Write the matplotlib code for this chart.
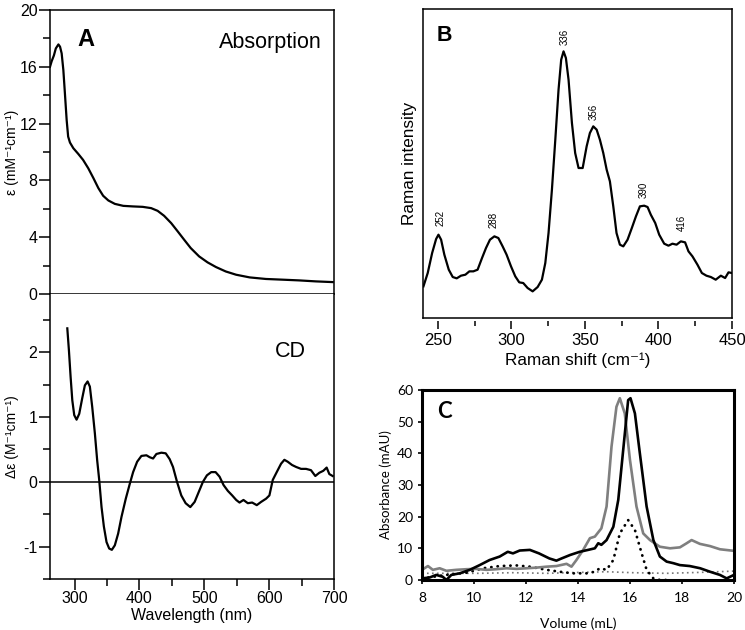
import numpy as np
import matplotlib
matplotlib.use('Agg')
import matplotlib.pyplot as plt
from matplotlib.ticker import MultipleLocator

plt.rcParams['font.family'] = ['Liberation Sans', 'DejaVu Sans']
plt.rcParams['mathtext.fontset'] = 'custom'
plt.rcParams['mathtext.rm'] = 'Liberation Sans'
plt.rcParams['axes.unicode_minus'] = False

# Painel A - absorcao (nm, mM-1 cm-1)
abs_wl = [262, 264.6, 268, 271, 275, 277.5, 280, 282.6, 285, 287.7, 290, 292.8, 298,
          305.6, 313, 321, 329, 336.6, 344, 352, 362, 375, 390, 405, 418, 428, 438, 449,
          459, 469, 479, 492, 505, 518, 533, 549, 570, 595, 621, 646, 672, 698]
abs_eps = [16.0, 16.4, 16.8, 17.3, 17.58, 17.42, 16.95, 15.78, 14.14, 12.26, 11.09, 10.67,
           10.27, 9.87, 9.45, 8.86, 8.16, 7.46, 6.92, 6.59, 6.35, 6.21, 6.17, 6.14, 6.05,
           5.86, 5.51, 4.99, 4.41, 3.82, 3.24, 2.65, 2.23, 1.90, 1.59, 1.36, 1.17, 1.06,
           1.01, 0.96, 0.89, 0.84]

# Painel A - CD (nm, M-1 cm-1)
cd_wl = [288.7, 291.2, 293.8, 296.4, 299.4, 303, 307.1, 311.7, 315.8, 320, 323.5, 327.1,
         331.2, 334.8, 337.9, 341.5, 345.1, 349.2, 353.3, 357.4, 362, 367.1, 372.3, 378.9,
         385.1, 390.2, 396.4, 403, 410.7, 415.8, 421, 426.1, 433.8, 440.5, 446.6,
         451.7, 457.9, 464.5, 471.2, 478.4, 485.1, 491.7, 497.9, 504, 510.7, 517.4, 523.5,
         529.7, 536.3, 543, 549.2, 554.3, 560.4, 567.1, 573.8, 580.9, 587.6, 595.3, 600.4,
         605.6, 611.7, 618.4, 623.5, 628.7, 635.3, 641.5, 649.2, 656.9, 664.5, 671.2,
         677.4, 683.5, 688.7, 692.8, 697.9]
cd_de = [2.37, 2.03, 1.62, 1.26, 1.03, 0.96, 1.05, 1.29, 1.49, 1.55, 1.47, 1.16, 0.75,
         0.33, 0.03, -0.39, -0.69, -0.93, -1.03, -1.05, -0.98, -0.80, -0.54, -0.26, -0.03,
         0.15, 0.31, 0.40, 0.41, 0.38, 0.36, 0.43, 0.45, 0.44, 0.35,
         0.23, 0.0, -0.21, -0.33, -0.39, -0.31, -0.15, 0.0, 0.10, 0.15, 0.15, 0.08, -0.05,
         -0.14, -0.21, -0.28, -0.32, -0.28, -0.33, -0.32, -0.36, -0.31, -0.26, -0.21, 0.03,
         0.15, 0.28, 0.34, 0.31, 0.26, 0.23, 0.20, 0.20, 0.18, 0.09, 0.14, 0.17, 0.22,
         0.12, 0.09]

# Painel B - Raman
ram_x = [240.3, 243.2, 246.2, 248.9, 250.5, 252.3, 254.5, 257.5, 260.2, 262.9, 265.8,
         268.8, 271.5, 274.2, 277.1, 280.1, 282.8, 285.5, 288.5, 291.2, 294.1, 296.8,
         299.8, 302.7, 305.4, 308.1, 311.1, 314.5, 317.9, 320.8, 323.1, 325.3, 327.6,
         329.9, 332.1, 333.9, 335.5, 337.1, 338.9, 341.2, 343.4, 345.7,
         348.5, 351.2, 353.4, 355.7, 358.0, 360.2, 362.5, 364.8, 367.0, 369.3, 371.5,
         373.8, 376.1, 379.0, 381.9, 384.7, 387.4, 390.3, 392.6, 394.8, 397.8, 400.5,
         403.9, 406.8, 409.5, 412.3, 415.2, 418.1, 420.4, 423.1, 426.5, 429.5, 432.6,
         435.6, 438.9, 442.4, 445.3, 447.6, 450.0]
ram_y = [9.5, 13.5, 19.5, 23.7, 25.0, 23.5, 19.0, 14.5, 12.3, 11.9, 12.7, 13.0, 14.0,
         14.0, 14.5, 18.0, 21.0, 23.5, 24.5, 24.0, 21.5, 19.0, 15.5, 12.5, 10.7, 10.5, 9.0,
         8.0, 9.3, 11.5, 16.5, 25.5, 38.5, 53.5, 68.5, 77.5, 80.0, 78.0, 71.5, 58.5, 49.5,
         45.0,
         45.0, 51.5, 55.5, 57.5, 56.5, 53.5, 49.5, 44.5, 41.0, 33.5, 25.5, 22.0, 21.5,
         23.5, 27.0, 30.5, 33.5, 33.7, 33.3, 31.0, 28.5, 25.0, 22.3, 21.7, 22.3, 22.0,
         23.0, 22.7, 20.0, 18.5, 16.0, 13.5, 12.7, 12.3, 11.5, 12.7, 12.0, 13.7, 13.5]
peak_pos = [252, 288, 336, 356, 390, 416]
peak_lab_y = [27.5, 27.0, 82.0, 59.5, 36.0, 26.0]

# Painel C - cromatografia (mL, mAU)
vol_k = [8.0, 8.3, 8.55, 8.8, 8.94, 9.13, 9.45, 9.84, 10.22, 10.6, 10.99, 11.3, 11.5,
         11.76, 12.15, 12.5, 12.9, 13.17, 13.37, 13.7, 14.07, 14.39, 14.65, 14.78, 14.9,
         15.1, 15.36, 15.55, 15.74, 15.93, 16.02, 16.19, 16.38, 16.64, 16.9, 17.15, 17.41,
         17.67, 17.92, 18.3, 18.7, 19.08, 19.46, 19.72, 20.0]
abs_k = [0.5, 0.8, 1.6, 1.0, 0.0, 1.6, 2.1, 3.2, 4.7, 6.3, 7.4, 8.9, 8.4, 9.3, 9.5, 8.4,
         6.8, 6.1, 6.8, 7.9, 8.9, 9.5, 10.0, 11.6, 11.1, 12.6, 16.8, 25.3, 41.1, 56.8, 57.4,
         52.6, 40.0, 23.2, 12.6, 7.4, 5.8, 5.3, 4.7, 4.4, 3.7, 2.6, 1.6, 0.5, 1.6]

vol_g = [8.0, 8.23, 8.42, 8.68, 8.94, 9.32, 9.71, 10.09, 10.48, 10.86, 11.25, 11.63, 12.02,
         12.4, 12.79, 13.17, 13.56, 13.75, 13.94, 14.2, 14.46, 14.65, 14.9, 15.1, 15.29,
         15.48, 15.61, 15.8, 16.0, 16.25, 16.51, 16.77, 17.15, 17.54, 17.92, 18.18, 18.37,
         18.69, 19.08, 19.46, 20.0]
abs_g = [3.2, 4.4, 3.2, 3.7, 2.9, 3.2, 3.4, 3.5, 3.2, 3.4, 3.7, 3.5, 3.7, 3.9, 4.2, 4.4,
         5.1, 4.2, 6.3, 9.5, 13.2, 13.7, 16.3, 23.2, 42.1, 54.7, 57.4, 52.6, 37.9, 23.2,
         14.7, 12.6, 10.5, 10.0, 10.3, 11.6, 12.6, 11.4, 10.7, 9.7, 9.2]

vol_d = [8.0, 8.94, 9.71, 10.35, 10.99, 11.63, 12.15, 12.79, 13.3, 13.8, 14.33, 14.65,
         14.84, 15.1, 15.36, 15.61, 15.93, 16.19, 16.45, 16.64, 16.9, 17.15, 17.4]
abs_d = [0.5, 1.6, 2.3, 3.7, 4.4, 4.6, 4.2, 3.2, 2.6, 2.1, 2.1, 2.6, 3.7, 3.2, 6.3, 14.7,
         18.9, 15.8, 8.4, 3.2, 0.5, 0.0, 0.0]

vol_f = [8.0, 8.94, 10.2, 11.5, 12.8, 14.07, 15.1, 16.1, 17.4, 18.7, 20.0]
abs_f = [2.1, 2.1, 2.1, 2.3, 2.1, 2.4, 2.6, 2.3, 2.1, 2.4, 2.8]

fig = plt.figure(figsize=(7.45, 6.3), dpi=100)

# --- A: absorcao ---
ax1 = fig.add_axes([0.0671, 0.5333, 0.3812, 0.4507])
ax1.plot(abs_wl, abs_eps, color='black', lw=1.6)
ax1.set_xlim(262, 700)
ax1.set_ylim(0, 20)
ax1.yaxis.set_major_locator(MultipleLocator(4))
ax1.yaxis.set_minor_locator(MultipleLocator(2))
ax1.tick_params(axis='y', which='major', length=8, width=1.1, labelsize=11.5, pad=1)
ax1.tick_params(axis='y', which='minor', length=5, width=1.1)
ax1.tick_params(axis='x', which='both', bottom=False, labelbottom=False)
ax1.set_ylabel('ε (mM⁻¹cm⁻¹)', fontsize=10)
ax1.yaxis.set_label_coords(-0.11, 0.5)
for s in ax1.spines.values():
    s.set_linewidth(1.1)
ax1.text(0.095, 0.895, 'A', transform=ax1.transAxes, fontsize=17, fontweight='bold',
         va='center')
ax1.text(0.775, 0.885, 'Absorption', transform=ax1.transAxes, fontsize=15.5,
         ha='center', va='center')

# --- A: CD ---
ax2 = fig.add_axes([0.0671, 0.081, 0.3812, 0.4523])
ax2.plot(cd_wl, cd_de, color='black', lw=1.6)
ax2.axhline(0, color='black', lw=1.1)
ax2.set_xlim(262, 700)
ax2.set_ylim(-1.5, 2.9)
ax2.xaxis.set_major_locator(MultipleLocator(100))
ax2.xaxis.set_minor_locator(MultipleLocator(50))
ax2.yaxis.set_major_locator(MultipleLocator(1))
ax2.yaxis.set_minor_locator(MultipleLocator(0.5))
ax2.tick_params(which='major', length=8, width=1.1, labelsize=11.5, pad=1)
ax2.tick_params(which='minor', length=5, width=1.1)
ax2.set_ylabel('Δε (M⁻¹cm⁻¹)', fontsize=10)
ax2.yaxis.set_label_coords(-0.11, 0.5)
ax2.set_xlabel('Wavelength (nm)', fontsize=11.5, labelpad=1)
for s in ax2.spines.values():
    s.set_linewidth(1.1)
ax2.spines['top'].set_visible(False)
ax2.text(0.845, 0.8, 'CD', transform=ax2.transAxes, fontsize=15.5,
         ha='center', va='center')

# --- B: Raman ---
ax3 = fig.add_axes([0.5678, 0.4952, 0.4148, 0.4905])
ax3.plot(ram_x, ram_y, color='black', lw=1.6)
for px, py in zip(peak_pos, peak_lab_y):
    ax3.text(px, py, str(px), rotation=90, fontsize=7, ha='center', va='bottom')
ax3.set_xlim(240, 450)
ax3.set_ylim(0, 92.7)
ax3.set_yticks([])
ax3.xaxis.set_major_locator(MultipleLocator(50))
ax3.xaxis.set_minor_locator(MultipleLocator(25))
ax3.tick_params(which='major', length=6, width=1.1, labelsize=12, pad=3)
ax3.tick_params(which='minor', length=3.5, width=1.1)
for s in ax3.spines.values():
    s.set_linewidth(1.1)
ax3.spines['bottom'].set_position(('outward', 2))
ax3.spines['bottom'].set_color('none')
ax3.axhline(0, color='black', lw=1.1, clip_on=False)
ax3.set_ylabel('Raman intensity', fontsize=12.3)
ax3.yaxis.set_label_coords(-0.018, 0.5)
ax3.set_xlabel('Raman shift (cm⁻¹)', fontsize=12.3, labelpad=3)
ax3.text(0.045, 0.915, 'B', transform=ax3.transAxes, fontsize=15.5, fontweight='bold',
         va='center')

# --- C: cromatografia ---
fam_c = ['Lato', 'DejaVu Sans']
ax4 = fig.add_axes([0.5664, 0.0794, 0.4188, 0.3016])
ax4.plot(vol_f, abs_f, color='#777777', lw=1.2, ls=(0, (1, 2)))
ax4.plot(vol_d, abs_d, color='black', lw=2.0, ls=(0, (0.1, 2.2)), dash_capstyle='round')
ax4.plot(vol_g, abs_g, color='#7f7f7f', lw=1.9)
ax4.plot(vol_k, abs_k, color='black', lw=1.9)
ax4.set_xlim(8, 20)
ax4.set_ylim(0, 60)
ax4.xaxis.set_major_locator(MultipleLocator(2))
ax4.yaxis.set_major_locator(MultipleLocator(10))
ax4.tick_params(length=3, width=1.2, labelsize=10)
ax4.tick_params(axis='x', pad=6)
for lab in ax4.get_xticklabels() + ax4.get_yticklabels():
    lab.set_family(fam_c)
for s in ax4.spines.values():
    s.set_linewidth(2.2)
ax4.set_ylabel('Absorbance (mAU)', fontsize=9.5, family=fam_c)
ax4.yaxis.set_label_coords(-0.095, 0.5)
ax4.set_xlabel('Volume (mL)', fontsize=10, family=fam_c, labelpad=9)
ax4.text(0.05, 0.885, 'C', transform=ax4.transAxes, fontsize=16, fontweight='bold',
         va='center', family=fam_c)

plt.savefig('out.png', dpi=100)
